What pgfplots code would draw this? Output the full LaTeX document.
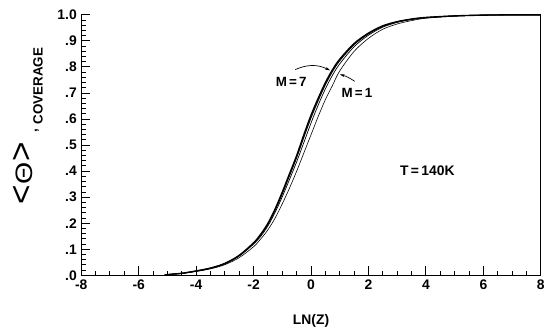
\documentclass[border=0pt]{standalone}
\usepackage{fontspec}
\setmainfont{Liberation Sans}
\usepackage{graphicx}
\usepackage{pgfplots}
\pgfplotsset{compat=1.18}
\usetikzlibrary{arrows.meta}
\newcommand{\thetalabel}{{\fontsize{24}{26}\selectfont\mdseries
  \raisebox{0.5pt}{\scalebox{1.4}[1.4]{<}}\kern1pt\scalebox{1.2}[1.0]{Θ}\kern1pt\raisebox{0.5pt}{\scalebox{1.4}[1.4]{>}}}}
\begin{document}
\begin{tikzpicture}
\begin{axis}[
  width=464pt, height=263pt, scale only axis,
  xmin=-8, xmax=8, ymin=0, ymax=1,
  axis x line*=bottom, axis y line*=box,
  axis line style={line width=1.2pt},
  xtick={-8,-6,-4,-2,0,2,4,6,8},
  minor x tick num=3,
  ytick={0,0.1,0.2,0.3,0.4,0.5,0.6,0.7,0.8,0.9,1.0},
  yticklabels={.0,.1,.2,.3,.4,.5,.6,.7,.8,.9,1.0},
  minor y tick num=4,
  xtick pos=bottom, ytick pos=left,
  tick align=inside,
  major tick length=9pt, minor tick length=4.5pt,
  tick style={line width=1pt, black},
  /pgf/number format/assume math mode=true,
  ticklabel style={font=\fontsize{14}{16}\selectfont\bfseries},
  xticklabel style={yshift=-1pt},
  yticklabel style={xshift=-1pt},
  xlabel={LN(Z)},
  xlabel style={font=\fontsize{14}{16}\selectfont\bfseries, at={(axis description cs:0.5,-0.175)}, anchor=center},
  ylabel={\raisebox{10pt}{\thetalabel}\hspace{9pt}\raisebox{6pt}{,}\hspace{5pt}COVERAGE},
  ylabel style={font=\fontsize{13.5}{15}\selectfont\bfseries, at={(axis description cs:-0.116,0.572)}, anchor=center},
  clip=false,
]
% M = 7
\addplot[black, line width=1.4pt, smooth] coordinates {
(-5.1,0) (-5,0.003) (-4.5,0.008) (-4,0.017) (-3.5,0.028) (-3,0.046) (-2.5,0.077)
(-2,0.125) (-1.75,0.158) (-1.5,0.2) (-1.25,0.255) (-1,0.32) (-0.75,0.39)
(-0.5,0.46) (-0.25,0.54) (0,0.615) (0.25,0.68) (0.5,0.74) (0.75,0.79)
(1,0.83) (1.5,0.89) (2,0.93) (2.5,0.958) (3,0.974) (3.5,0.984) (4,0.99)
(5,0.996) (6,0.999) (7,1) (8,1)};
% M = 5
\addplot[black, line width=0.9pt, smooth] coordinates {
(-5.1,0) (-5,0.003) (-4.5,0.008) (-4,0.017) (-3.5,0.028) (-3,0.045) (-2.5,0.076)
(-2,0.123) (-1.75,0.155) (-1.5,0.196) (-1.25,0.25) (-1,0.313) (-0.75,0.382)
(-0.5,0.452) (-0.25,0.53) (0,0.605) (0.25,0.671) (0.5,0.732) (0.75,0.783)
(1,0.824) (1.5,0.886) (2,0.927) (2.5,0.956) (3,0.973) (3.5,0.983) (4,0.99)
(5,0.996) (6,0.999) (7,1) (8,1)};
% M = 3
\addplot[black, line width=0.7pt, smooth] coordinates {
(-5.1,0) (-5,0.003) (-4.5,0.008) (-4,0.016) (-3.5,0.027) (-3,0.044) (-2.5,0.074)
(-2,0.12) (-1.75,0.15) (-1.5,0.19) (-1.25,0.242) (-1,0.302) (-0.75,0.368)
(-0.5,0.436) (-0.25,0.51) (0,0.585) (0.25,0.654) (0.5,0.716) (0.75,0.769)
(1,0.812) (1.5,0.878) (2,0.922) (2.5,0.953) (3,0.971) (3.5,0.982) (4,0.989)
(5,0.996) (6,0.999) (7,1) (8,1)};
% M = 1
\addplot[black, line width=0.6pt, smooth] coordinates {
(-5.1,0) (-5,0.003) (-4.5,0.007) (-4,0.015) (-3.5,0.025) (-3,0.041) (-2.5,0.068)
(-2,0.11) (-1.75,0.14) (-1.5,0.175) (-1.25,0.22) (-1,0.275) (-0.75,0.335)
(-0.5,0.40) (-0.25,0.47) (0,0.54) (0.25,0.61) (0.5,0.675) (0.75,0.73)
(1,0.785) (1.5,0.86) (2,0.91) (2.5,0.945) (3,0.965) (3.5,0.978) (4,0.987)
(5,0.995) (6,0.999) (7,1) (8,1)};
\node[font=\fontsize{13.5}{15}\selectfont\bfseries] at (axis cs:-0.69,0.741) {M\,=\,7};
\node[font=\fontsize{13.5}{15}\selectfont\bfseries] at (axis cs:1.6,0.70) {M\,=\,1};
\node[font=\fontsize{14}{16}\selectfont\bfseries] at (axis cs:4.05,0.403) {T\,=\,140K};
\draw[line width=0.7pt, -{Stealth[length=5pt,width=3pt]}] (axis cs:-0.55,0.79) to[bend left=25] (axis cs:0.66,0.787);
\draw[line width=0.7pt, -{Stealth[length=5pt,width=3pt]}] (axis cs:1.52,0.745) to[bend right=8] (axis cs:1.0,0.772);
\end{axis}
\path ([shift={(-82pt,-53pt)}]current axis.south west) rectangle ([shift={(2pt,15pt)}]current axis.north east);
\end{tikzpicture}
\end{document}
